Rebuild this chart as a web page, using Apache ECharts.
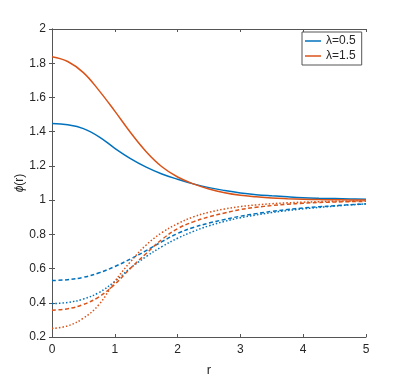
<!DOCTYPE html>
<html>
<head>
<meta charset="utf-8">
<script src="https://cdn.jsdelivr.net/npm/echarts@6/dist/echarts.min.js"></script>
<style>
  html, body { margin: 0; padding: 0; background: #fff; }
  #chart { width: 404px; height: 382px; }
</style>
</head>
<body>
<div id="chart"></div>
<script>
// r grid the curves were read at
const rValues = [0, 0.25, 0.5, 0.75, 1, 1.25, 1.5, 1.75, 2, 2.25, 2.5, 2.75, 3, 3.25, 3.5, 3.75, 4, 4.25, 4.5, 4.75, 5];

// lambda = 0.5 (blue)
const blueSolid  = [1.448, 1.440, 1.418, 1.370, 1.303, 1.243, 1.193, 1.153, 1.122, 1.095, 1.073, 1.056, 1.042, 1.032, 1.025, 1.019, 1.014, 1.011, 1.009, 1.007, 1.005];
const blueDashed = [0.530, 0.535, 0.549, 0.575, 0.612, 0.656, 0.705, 0.757, 0.805, 0.840, 0.866, 0.887, 0.906, 0.921, 0.934, 0.945, 0.954, 0.961, 0.967, 0.973, 0.978];
const blueDotted = [0.395, 0.402, 0.422, 0.460, 0.525, 0.603, 0.670, 0.728, 0.777, 0.817, 0.850, 0.876, 0.897, 0.913, 0.927, 0.939, 0.949, 0.957, 0.965, 0.972, 0.978];

// lambda = 1.5 (orange)
const orangeSolid  = [1.838, 1.810, 1.745, 1.640, 1.520, 1.395, 1.283, 1.195, 1.135, 1.095, 1.065, 1.043, 1.028, 1.019, 1.012, 1.008, 1.005, 1.003, 1.002, 1.001, 1.001];
const orangeDashed = [0.357, 0.365, 0.390, 0.435, 0.508, 0.602, 0.688, 0.770, 0.833, 0.873, 0.902, 0.925, 0.945, 0.958, 0.968, 0.976, 0.982, 0.986, 0.989, 0.991, 0.993];
const orangeDotted = [0.250, 0.265, 0.310, 0.390, 0.525, 0.640, 0.738, 0.810, 0.862, 0.902, 0.929, 0.948, 0.962, 0.972, 0.979, 0.984, 0.988, 0.991, 0.993, 0.994, 0.995];

const xTicks = [0, 1, 2, 3, 4, 5];
const yTicks = [0.2, 0.4, 0.6, 0.8, 1, 1.2, 1.4, 1.6, 1.8, 2];

const BLUE = '#0072BD';
const ORANGE = '#D95319';
const AXIS = '#555555';
const TEXT = '#262626';
const FONT = 'Liberation Sans';

function pairs(ys) {
  return rValues.map((r, i) => [r, ys[i]]);
}

function curve(name, ys, color, type) {
  return {
    name: name,
    type: 'line',
    data: pairs(ys),
    showSymbol: false,
    smooth: 0.4,
    lineStyle: { color: color, width: 1.5, type: type },
    itemStyle: { color: color },
    z: 3
  };
}

const axisCommon = {
  type: 'value',
  axisLine: { show: true, lineStyle: { color: AXIS, width: 1 } },
  axisTick: { show: true, inside: true, length: 3, lineStyle: { color: AXIS } },
  splitLine: { show: false }
};

const chart = echarts.init(document.getElementById('chart'), null, { renderer: 'canvas' });

const option = {
  animation: false,
  backgroundColor: '#ffffff',
  textStyle: { fontFamily: FONT },
  grid: { left: 52, right: 38, top: 29, bottom: 43 },
  legend: {
    data: ['λ=0.5', 'λ=1.5'],
    orient: 'vertical',
    left: 302,
    top: 32,
    itemWidth: 16,
    itemHeight: 10,
    itemGap: 3,
    padding: [3, 6, 3, 3],
    borderColor: '#555',
    borderWidth: 1,
    backgroundColor: '#fff',
    textStyle: { fontFamily: FONT, fontSize: 12, color: TEXT },
    icon: 'path://M0,5L16,5L16,6.5L0,6.5Z'
  },
  xAxis: [
    Object.assign({}, axisCommon, {
      min: 0, max: 5, interval: 1,
      position: 'bottom',
      name: 'r',
      nameLocation: 'middle',
      nameGap: 27,
      nameMoveOverlap: false,
      nameTextStyle: { fontFamily: FONT, fontSize: 13, color: TEXT },
      axisLabel: {
        fontFamily: FONT, fontSize: 12, color: TEXT, margin: 7,
        formatter: v => xTicks.includes(v) ? String(v) : ''
      }
    }),
    Object.assign({}, axisCommon, {
      min: 0, max: 5, interval: 1,
      position: 'top',
      axisLabel: { show: false }
    })
  ],
  yAxis: [
    Object.assign({}, axisCommon, {
      min: 0.2, max: 2, interval: 0.2,
      position: 'left',
      name: '{i|ϕ}(r)',
      nameLocation: 'middle',
      nameRotate: 90,
      nameGap: 26,
      nameMoveOverlap: false,
      nameTextStyle: {
        fontFamily: FONT, fontSize: 12, color: TEXT,
        rich: { i: { fontFamily: FONT, fontStyle: 'italic', fontSize: 12, color: TEXT } }
      },
      axisLabel: {
        fontFamily: FONT, fontSize: 12, color: TEXT, margin: 6,
        formatter: v => {
          const t = yTicks.find(k => Math.abs(k - v) < 1e-6);
          return t === undefined ? '' : String(t);
        }
      }
    }),
    Object.assign({}, axisCommon, {
      min: 0.2, max: 2, interval: 0.2,
      position: 'right',
      axisLabel: { show: false }
    })
  ],
  series: [
    curve('λ=0.5', blueSolid, BLUE, 'solid'),
    curve('λ=1.5', orangeSolid, ORANGE, 'solid'),
    curve('blue dashed', blueDashed, BLUE, [4, 2.5]),
    curve('blue dotted', blueDotted, BLUE, [1.5, 2]),
    curve('orange dashed', orangeDashed, ORANGE, [4, 2.5]),
    curve('orange dotted', orangeDotted, ORANGE, [1.5, 2])
  ]
};

chart.setOption(option);
</script>
</body>
</html>
